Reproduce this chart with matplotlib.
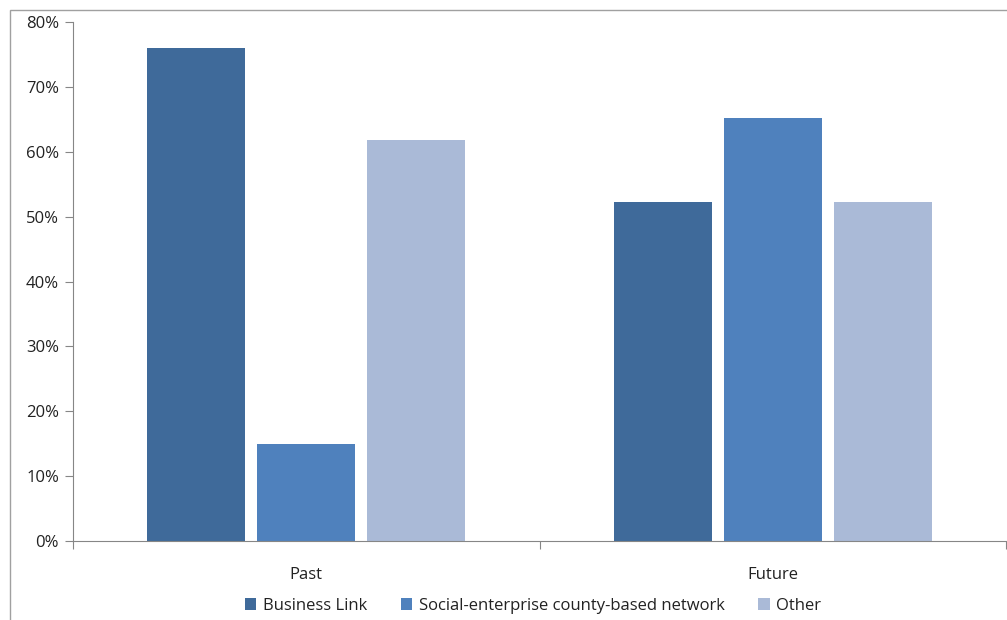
import numpy as np
import matplotlib.pyplot as plt
from matplotlib.patches import Rectangle, Patch
from matplotlib.ticker import PercentFormatter

categories = ["Past", "Future"]
series_names = ["Business Link", "Social-enterprise county-based network", "Other"]
business_link = [76.0, 52.2]
social_network = [15.0, 65.2]
other = [61.8, 52.2]
colors = ["#3F6A9A", "#4F81BD", "#AABAD7"]

plt.rcParams["font.family"] = ["Open Sans", "DejaVu Sans"]

fig = plt.figure(figsize=(10.07, 6.20), dpi=100)
W, H = 1007, 620
ax = fig.add_axes([73 / W, 1 - 541 / H, (1006 - 73) / W, (541 - 22) / H])

# outer chart frame
fig.patches.append(Rectangle((10 / W, -0.1), 1.2, 1 - 10 / H + 0.1,
                             transform=fig.transFigure, fill=False,
                             edgecolor="#A0A0A0", linewidth=1.0))

x = np.arange(len(categories))
width = 98 / 467
step = 110 / 467
for i, (vals, name, c) in enumerate(zip([business_link, social_network, other],
                                         series_names, colors)):
    ax.bar(x + (i - 1) * step, vals, width, color=c, label=name, zorder=2)

ax.set_xlim(-0.5, 1.5)
ax.set_ylim(0, 80)
ax.set_yticks(range(0, 81, 10))
ax.yaxis.set_major_formatter(PercentFormatter(decimals=0))
ax.set_xticks([-0.5, 0.5, 1.5], minor=False)
ax.set_xticklabels([])
ax.set_xticks(x, minor=True)
ax.set_xticklabels(categories, minor=True)
ax.tick_params(axis="x", which="minor", length=0, pad=19, labelsize=12, labelcolor="#222222")
ax.tick_params(axis="x", which="major", length=6, direction="out", color="#868686")
ax.tick_params(axis="y", length=6, direction="out", color="#868686", labelsize=12,
               labelcolor="#222222", pad=4)

for s in ["top", "right"]:
    ax.spines[s].set_visible(False)
for s in ["left", "bottom"]:
    ax.spines[s].set_color("#868686")

handles = [Patch(facecolor=c, label=n) for c, n in zip(colors, series_names)]
fig.legend(handles=handles, loc="center", bbox_to_anchor=(533 / W, 1 - 606 / H),
           ncol=3, frameon=False, fontsize=12, handlelength=0.7, handleheight=0.7,
           handletextpad=0.4, columnspacing=2.0, labelcolor="#222222")

fig.savefig("out.png", dpi=100)
